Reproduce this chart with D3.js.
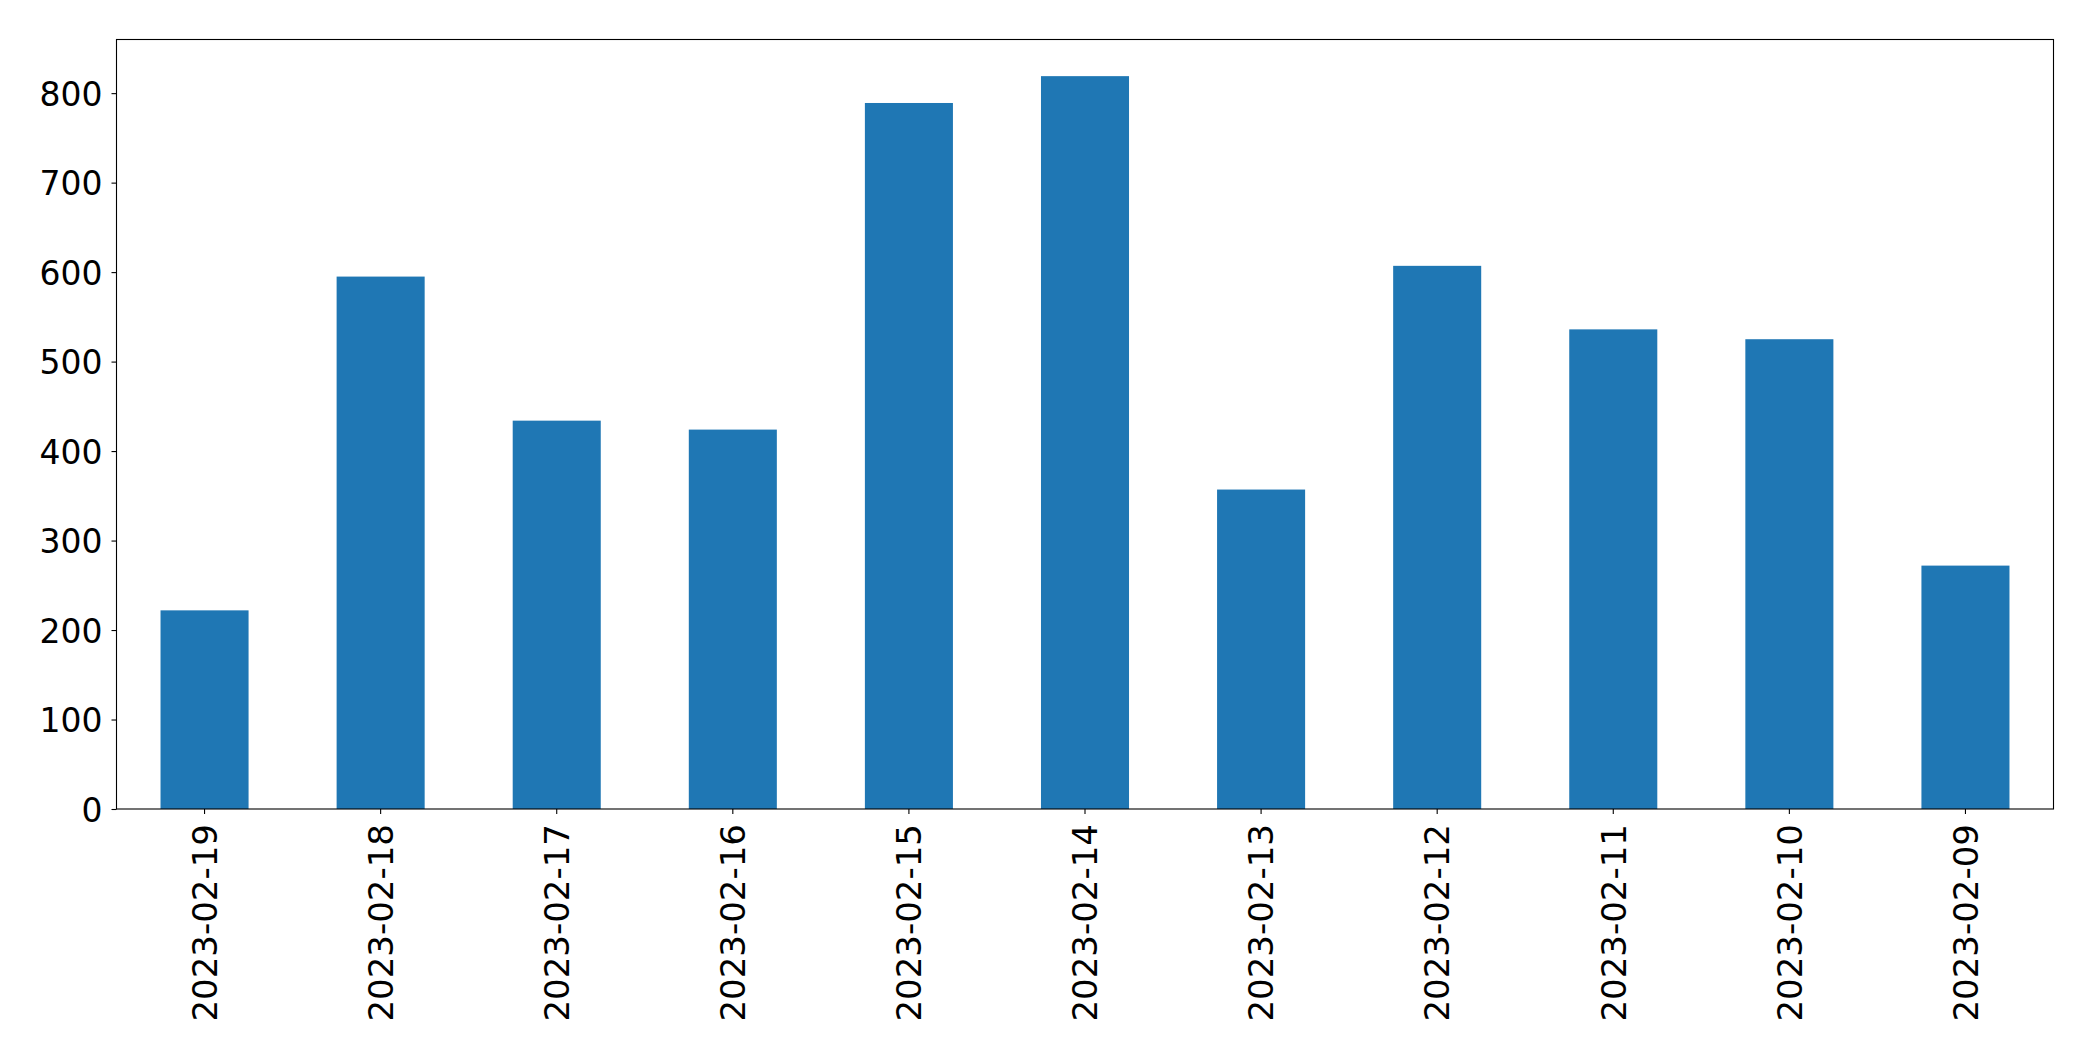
<!DOCTYPE html>
<html>
<head>
<meta charset="utf-8">
<script src="https://cdn.jsdelivr.net/npm/d3@7"></script>
<style>
  html, body { margin: 0; padding: 0; background: #fff; }
  svg { display: block; }
  text { font-family: "DejaVu Sans", sans-serif; fill: #000; }
</style>
</head>
<body>
<svg id="chart" width="2093" height="1061"></svg>
<script>
const categories = ["2023-02-19", "2023-02-18", "2023-02-17", "2023-02-16", "2023-02-15", "2023-02-14", "2023-02-13", "2023-02-12", "2023-02-11", "2023-02-10", "2023-02-09"];
const values = [222, 595, 434, 424, 789, 819, 357, 607, 536, 525, 272];
const yTicks = [0, 100, 200, 300, 400, 500, 600, 700, 800];

const W = 2093, H = 1061;
const margin = { left: 116.5, right: W - 2053.5, top: 39.5, bottom: H - 809 };
const svg = d3.select("#chart");
const iw = W - margin.left - margin.right;
const ih = H - margin.top - margin.bottom;
const g = svg.append("g").attr("transform", `translate(${margin.left},${margin.top})`);

const x = d3.scaleBand().domain(categories).range([0, iw]).paddingInner(0.5).paddingOuter(0.25);
const y = d3.scaleLinear().domain([0, d3.max(values) * 1.05]).range([ih, 0]);

g.selectAll("rect.bar").data(values).enter().append("rect")
  .attr("class", "bar")
  .attr("x", (d, i) => x(categories[i]))
  .attr("width", x.bandwidth())
  .attr("y", d => y(d))
  .attr("height", d => y(0) - y(d))
  .attr("fill", "#1f77b4");

const yAxis = g.append("g").call(d3.axisLeft(y).tickValues(yTicks).tickSize(5).tickPadding(9).tickFormat(d3.format("d")));
yAxis.select(".domain").remove();
yAxis.selectAll("line").attr("stroke", "#000").attr("stroke-width", 1.1);
yAxis.selectAll("text").style("font-size", "33px").attr("font-family", "DejaVu Sans")
  .attr("dy", "0.37em");

const xAxis = g.append("g").attr("transform", `translate(0,${ih})`)
  .call(d3.axisBottom(x).tickSize(5).tickPadding(6));
xAxis.select(".domain").remove();
xAxis.selectAll("line").attr("stroke", "#000").attr("stroke-width", 1.1);
xAxis.selectAll("text")
  .style("font-size", "34px")
  .attr("font-family", "DejaVu Sans")
  .attr("text-anchor", "end")
  .attr("transform", "rotate(-90)")
  .attr("x", -15)
  .attr("y", 0)
  .attr("dy", "0.36em");

g.append("rect").attr("x", 0).attr("y", 0).attr("width", iw).attr("height", ih)
  .attr("fill", "none").attr("stroke", "#000").attr("stroke-width", 1.1);
</script>
</body>
</html>
